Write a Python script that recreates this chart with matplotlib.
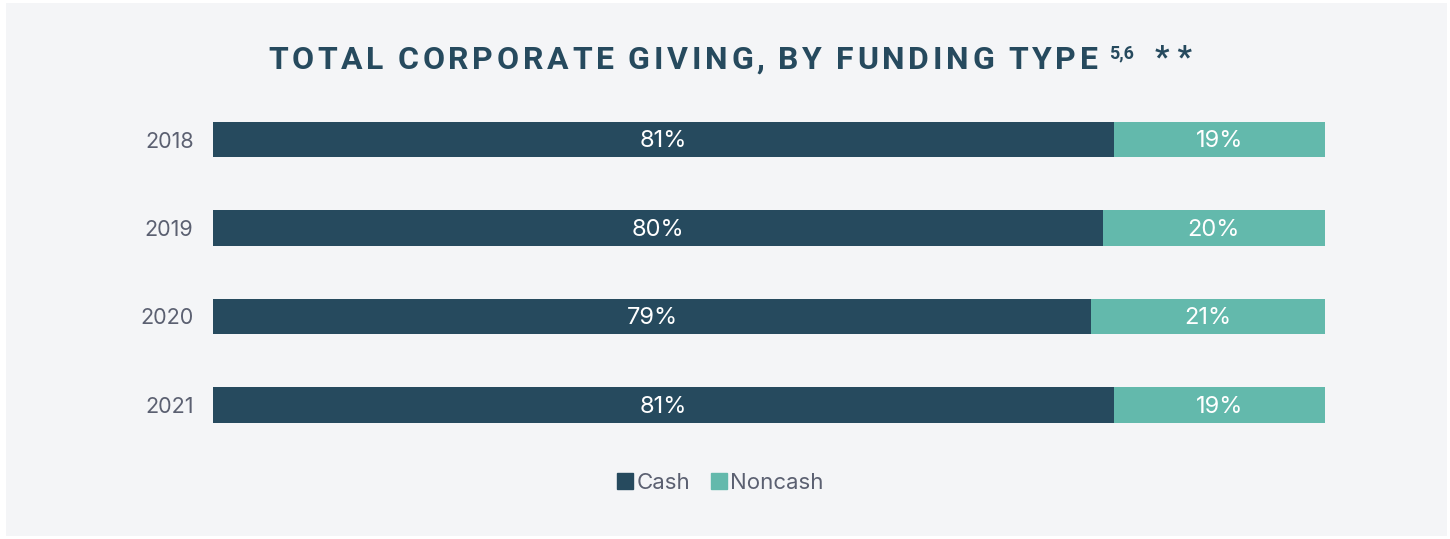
import matplotlib.pyplot as plt
from matplotlib.patches import Rectangle
from matplotlib.lines import Line2D

years = ['2018', '2019', '2020', '2021']
cash = [81, 80, 79, 81]
noncash = [19, 20, 21, 19]

dark = '#264a5e'
teal = '#63b9ac'
grey_text = '#5b6071'
panel = '#f4f5f7'

plt.rcParams['font.family'] = ['Inter', 'DejaVu Sans']

W, H = 1450, 539
fig = plt.figure(figsize=(W / 100, H / 100), dpi=100)
fig.patch.set_facecolor('white')
fig.add_artist(Rectangle((6 / W, 3 / H), 1441 / W, 533 / H, transform=fig.transFigure,
                         facecolor=panel, edgecolor='none', zorder=0))

# bar area
ax = fig.add_axes([213 / W, 1 - 449.25 / H, 1112 / W, 354 / H])
ax.set_facecolor('none')
pos = list(range(len(years)))
ax.barh(pos, cash, height=0.4, color=dark, label='Cash')
ax.barh(pos, noncash, left=cash, height=0.4, color=teal, label='Noncash')
for i in pos:
    ax.text(cash[i] / 2, i + 0.02, f'{cash[i]}%', ha='center', va='center',
            color='white', fontsize=17)
    ax.text(cash[i] + noncash[i] / 2, i + 0.02, f'{noncash[i]}%', ha='center', va='center',
            color='white', fontsize=17)
ax.set_xlim(0, 100)
ax.set_ylim(3.5, -0.5)
ax.set_yticks(pos, years)
ax.tick_params(axis='y', length=0, pad=14, labelsize=15.5, labelcolor=grey_text)
ax.set_xticks([])
for s in ax.spines.values():
    s.set_visible(False)

# legend
handles = [Line2D([], [], marker='s', linestyle='none', markersize=11, color=dark),
           Line2D([], [], marker='s', linestyle='none', markersize=11, color=teal)]
fig.legend(handles, ['Cash', 'Noncash'], loc='center', bbox_to_anchor=(719 / W, 1 - 483 / H),
           ncol=2, frameon=False, fontsize=16, labelcolor=grey_text,
           handletextpad=0.0, columnspacing=0.8, handlelength=1.0)

# title with wide letter spacing, placed char by char
renderer = fig.canvas.get_renderer()
title = 'TOTAL CORPORATE GIVING, BY FUNDING TYPE'
tfont = ['Roboto', 'DejaVu Sans']
tsize = 23
x0, x1, ty = 268, 1098, 1 - 60 / H
widths = []
for ch in title:
    if ch == ' ':
        widths.append(None)
        continue
    t = fig.text(0, 0, ch, fontsize=tsize, fontweight='bold', family=tfont)
    widths.append(t.get_window_extent(renderer).width)
    t.remove()
space_w = 6
natural = sum(w if w is not None else space_w for w in widths)
track = (x1 - x0 - natural) / (len(title) - 1)
x = x0
for ch, w in zip(title, widths):
    if w is None:
        x += space_w + track
        continue
    fig.text(x / W, ty, ch, fontsize=tsize, fontweight='bold', color=dark,
             ha='left', va='center', family=tfont)
    x += w + track
fig.text(1109 / W, 1 - 53 / H, '5,6', fontsize=13, fontweight='bold', color=dark,
         ha='left', va='center', family=tfont)
fig.text(1155 / W, 1 - 58 / H, '* *', fontsize=tsize, fontweight='bold', color=dark,
         ha='left', va='center', family=tfont)

fig.savefig('out.png', dpi=100, facecolor=fig.get_facecolor())
